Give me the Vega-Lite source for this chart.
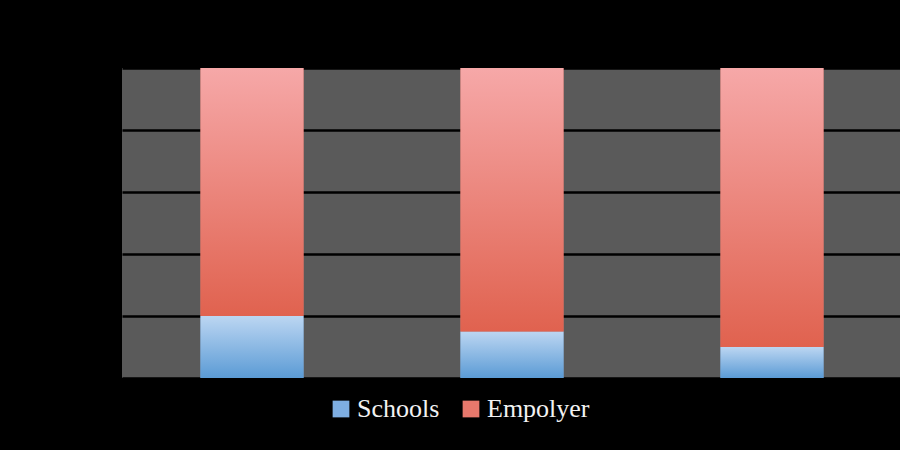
{
  "$schema": "https://vega.github.io/schema/vega-lite/v6.json",
  "autosize": {"type": "none"},
  "padding": {"left": 122, "top": 68, "right": 0, "bottom": 72},
  "width": 780,
  "height": 310,
  "background": "#000000",
  "config": {
    "view": {"fill": "#5a5a5a", "stroke": null},
    "font": "Liberation Serif"
  },
  "data": {
    "values": [
      {"cat": "A", "series": "Schools", "value": 20},
      {"cat": "A", "series": "Empolyer", "value": 80},
      {"cat": "B", "series": "Schools", "value": 15},
      {"cat": "B", "series": "Empolyer", "value": 85},
      {"cat": "C", "series": "Schools", "value": 10},
      {"cat": "C", "series": "Empolyer", "value": 90}
    ]
  },
  "encoding": {
    "x": {
      "field": "cat",
      "type": "nominal",
      "axis": null,
      "scale": {"paddingInner": 0.604, "paddingOuter": 0.302}
    },
    "y": {
      "field": "value",
      "type": "quantitative",
      "stack": "zero",
      "scale": {"domain": [0, 100], "nice": false},
      "axis": {
        "grid": true,
        "gridColor": "#000000",
        "gridWidth": 2.5,
        "gridOpacity": 1,
        "labels": false,
        "ticks": false,
        "domain": false,
        "title": null,
        "values": [0, 20, 40, 60, 80, 100]
      }
    },
    "order": {"field": "series", "sort": "descending"}
  },
  "layer": [
    {
      "mark": {"type": "bar"},
      "encoding": {
        "color": {
          "field": "series",
          "type": "nominal",
          "scale": {"domain": ["Schools", "Empolyer"], "range": ["#7eaee2", "#e7786c"]},
          "legend": {
            "title": null,
            "orient": "none",
            "direction": "horizontal",
            "legendX": 206,
            "legendY": 328,
            "symbolType": "square",
            "symbolSize": 280,
            "symbolStrokeWidth": 0,
            "labelFont": "Liberation Serif",
            "labelFontSize": 26,
            "labelColor": "#f2f2f2",
            "labelOffset": 3,
            "columnPadding": 18,
            "labelLimit": 300
          }
        }
      }
    },
    {
      "mark": {"type": "bar"},
      "encoding": {
        "fill": {
          "condition": {
            "test": "datum.series === 'Schools'",
            "value": {
              "gradient": "linear",
              "x1": 0, "y1": 0, "x2": 0, "y2": 1,
              "stops": [
                {"offset": 0, "color": "#bcd6f2"},
                {"offset": 1, "color": "#5b9bd5"}
              ]
            }
          },
          "value": {
            "gradient": "linear",
            "x1": 0, "y1": 0, "x2": 0, "y2": 1,
            "stops": [
              {"offset": 0, "color": "#f6a8a8"},
              {"offset": 1, "color": "#e0624f"}
            ]
          }
        }
      }
    }
  ]
}
